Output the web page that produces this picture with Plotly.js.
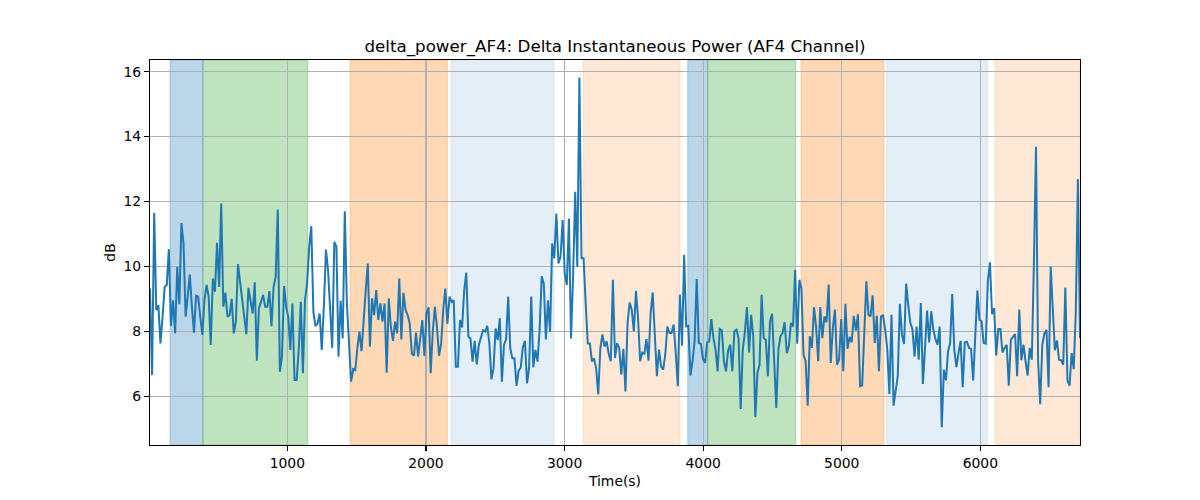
<!DOCTYPE html>
<html>
<head>
<meta charset="utf-8">
<script src="https://cdn.plot.ly/plotly-3.0.1.min.js"></script>
<style>
  html, body { margin: 0; padding: 0; background: #fff; }
  #chart { width: 1200px; height: 500px; }
</style>
</head>
<body>
<div id="chart"></div>
<script>
// sample times run evenly from tStart to tEnd
const tStart = 9;
const tEnd = 6719;

// delta power (dB) left to right
const powerDb = [
  9.32, 6.66, 11.65, 8.66, 8.8, 7.63, 8.45, 9.37, 9.43, 10.53, 8.17, 8.96, 7.94, 9.99, 8.84, 11.34,
  10.71, 8.45, 9.07, 9.75, 8.76, 7.96, 9.1, 9.07, 8.45, 7.89, 8.96, 9.43, 9.07, 7.58, 9.63, 9.22,
  10.73, 9.37, 11.94, 8.76, 9.19, 8.45, 8.5, 9.0, 7.94, 8.3, 10.07, 9.48, 8.96, 8.45, 7.91, 9.34,
  8.86, 8.55, 9.51, 7.1, 8.71, 8.96, 9.12, 8.76, 8.76, 9.24, 8.16, 9.37, 9.68, 11.75, 6.76, 7.22,
  9.4, 8.76, 8.45, 7.43, 8.86, 6.5, 6.5, 7.43, 8.91, 6.71, 8.96, 9.48, 10.61, 11.24, 8.6, 8.16,
  8.24, 8.55, 7.43, 8.76, 10.52, 9.89, 8.45, 7.48, 10.76, 10.61, 7.22, 8.94, 7.78, 11.7, 8.86, 7.43,
  6.45, 6.84, 6.81, 7.48, 7.99, 7.39, 8.45, 9.27, 10.09,
  7.53, 9.02, 8.5, 9.27, 8.35, 8.86, 8.3, 8.86, 6.73, 9.02, 8.14, 7.71, 8.3, 7.94, 9.63, 7.75,
  9.19, 8.66, 8.5, 8.25, 7.32, 7.25, 7.96, 7.22, 7.89, 8.35, 7.24, 8.55, 8.74, 6.71, 7.99, 8.76,
  8.14, 7.25, 7.63, 8.66, 9.32, 8.23, 9.07, 8.91, 8.96, 6.91, 6.91, 8.35, 8.12, 9.27, 9.81, 7.84,
  7.78, 7.07, 7.71, 6.98, 7.58, 7.82, 8.04, 7.99, 8.17, 7.65, 6.52, 6.86, 8.09, 7.73, 8.4, 6.45,
  7.58, 7.75, 9.07, 7.48, 7.17, 7.17, 6.32, 6.79, 6.89, 7.51, 7.71, 6.4, 6.89, 9.07, 6.89, 7.43,
  7.07, 8.04, 9.7, 9.48, 7.75, 8.96, 7.99, 10.71, 10.25, 11.63, 10.09, 10.3, 11.43, 9.78, 9.43, 11.48,
  7.78, 9.73, 12.3, 9.99, 15.82, 10.25, 10.25, 8.86, 7.63, 7.63, 7.07, 7.17, 6.86, 6.06, 7.48, 7.91,
  7.53, 7.7, 7.3,
  7.08, 9.59, 7.18, 7.64, 7.49, 6.67, 7.46, 6.15, 8.26, 8.89, 8.67, 8.0, 9.25, 8.41, 7.08, 7.35,
  7.31, 7.76, 7.1, 8.56, 9.2, 7.74, 6.62, 7.44, 6.92, 6.82, 7.28, 8.15, 7.95, 7.95, 8.21, 7.33,
  6.31, 9.13, 7.56, 10.36, 8.15, 8.17, 6.64, 7.08, 7.69, 9.61, 7.64, 7.62, 7.15, 7.03, 7.66, 7.69,
  8.38, 7.79, 7.44, 6.77, 8.07, 8.03, 7.08, 6.77, 7.41, 7.59, 6.77, 8.0, 8.05, 7.79, 5.61, 7.44,
  7.97, 8.75, 7.35, 8.51, 7.85, 5.36, 6.72, 6.97, 9.13, 7.79, 7.74, 6.62, 8.31, 8.54, 6.97, 5.64,
  7.44, 7.85, 7.95, 8.28, 7.33, 7.54, 8.26, 8.15, 9.9, 7.62, 9.59, 9.33, 7.28, 7.08, 5.71, 7.85,
  7.49, 8.75, 8.15, 7.08, 8.75, 7.79, 8.46, 8.28, 9.44, 7.03, 8.1, 8.67, 6.97,
  7.13, 8.38, 6.77, 8.85, 7.46, 7.83, 7.66, 8.48, 8.02, 8.53, 6.31, 6.33, 8.05, 9.54, 8.51, 8.46,
  9.11, 7.64, 8.48, 6.77, 8.46, 8.49, 8.05, 7.44, 6.07, 8.51, 5.71, 6.1, 6.62, 8.85, 7.9, 7.61,
  9.47, 8.82, 8.26, 8.07, 7.23, 8.15, 7.13, 8.87, 6.38, 7.49, 8.64, 7.66, 8.62, 8.05, 7.76, 7.59,
  8.15, 5.05, 6.82, 6.49, 7.38, 7.64, 9.15, 7.42, 6.9, 7.33, 7.71, 6.28, 7.66, 7.68, 7.49, 7.46,
  6.49, 7.85, 9.26, 8.36, 8.31, 7.64, 7.62, 9.54, 10.13, 8.53, 8.72, 7.26, 8.07, 8.07, 7.35, 7.49,
  7.59, 6.33, 7.74, 7.83, 7.92, 6.62, 8.67, 7.11, 7.59, 7.08, 6.64, 7.49, 7.13, 10.12, 13.69, 7.08,
  5.76, 7.59, 7.93, 8.05, 6.28, 10.0, 8.46, 7.42, 7.72, 7.13, 7.11, 6.97, 9.35, 6.49, 6.33, 7.33,
  6.84, 8.62, 12.69, 7.79
];

// shaded intervals (s) and what kind each one is
const spanStart = [154, 391, 1452, 2181, 3136, 3889, 4033, 4706, 5324, 6106];
const spanEnd   = [391, 1147, 2154, 2924, 3833, 4033, 4668, 5305, 6050, 6719];
const spanKind  = ["blue", "green", "orange", "lightblue", "lightorange",
                   "blue", "green", "orange", "lightblue", "lightorange"];

const yTicks = [6, 8, 10, 12, 14, 16];
const xTicks = [1000, 2000, 3000, 4000, 5000, 6000];

const spanFill = {
  blue: "rgba(31,119,180,0.3)",
  green: "rgba(44,160,44,0.3)",
  orange: "rgba(255,127,14,0.3)",
  lightblue: "rgba(31,119,180,0.12)",
  lightorange: "rgba(255,127,14,0.17)",
};

const dt = (tEnd - tStart) / (powerDb.length - 1);
const times = powerDb.map((_, i) => tStart + i * dt);

const shapes = spanStart.map((s, i) => ({
  type: "rect",
  xref: "x",
  yref: "paper",
  x0: s,
  x1: spanEnd[i],
  y0: 0,
  y1: 1,
  fillcolor: spanFill[spanKind[i]],
  line: { color: spanFill[spanKind[i]], width: 1 },
  layer: "below",
}));

const font = { family: "DejaVu Sans", size: 13.9, color: "#000" };

const data = [
  {
    x: times,
    y: powerDb,
    type: "scatter",
    mode: "lines",
    line: { color: "#1f77b4", width: 2 },
    hoverinfo: "x+y",
  },
];

const axisCommon = {
  showline: true,
  linecolor: "#000",
  linewidth: 1.1,
  mirror: true,
  ticks: "outside",
  ticklen: 5,
  tickwidth: 1.1,
  tickcolor: "#000",
  showgrid: true,
  gridcolor: "#b0b0b0",
  gridwidth: 1.1,
  zeroline: false,
  tickfont: font,
  tickmode: "array",
};

const layout = {
  width: 1200,
  height: 500,
  paper_bgcolor: "#fff",
  plot_bgcolor: "#fff",
  margin: { l: 150, r: 120, t: 60, b: 55 },
  showlegend: false,
  font: font,
  title: {
    text: "delta_power_AF4: Delta Instantaneous Power (AF4 Channel)",
    font: { family: "DejaVu Sans", size: 16.7, color: "#000" },
    x: 0.5125,
    xanchor: "center",
    yref: "container",
    y: 1 - 46 / 500,
    yanchor: "middle",
  },
  xaxis: {
    ...axisCommon,
    range: [tStart, tEnd],
    tickvals: xTicks,
    ticktext: xTicks.map(String),
    title: { text: "Time(s)", font: font, standoff: 6 },
  },
  yaxis: {
    ...axisCommon,
    range: [4.5, 16.36],
    tickvals: yTicks,
    ticktext: yTicks.map(String),
    title: { text: "dB", font: font, standoff: 4 },
  },
  shapes: shapes,
};

Plotly.newPlot("chart", data, layout, { displayModeBar: false, staticPlot: true });
</script>
</body>
</html>
